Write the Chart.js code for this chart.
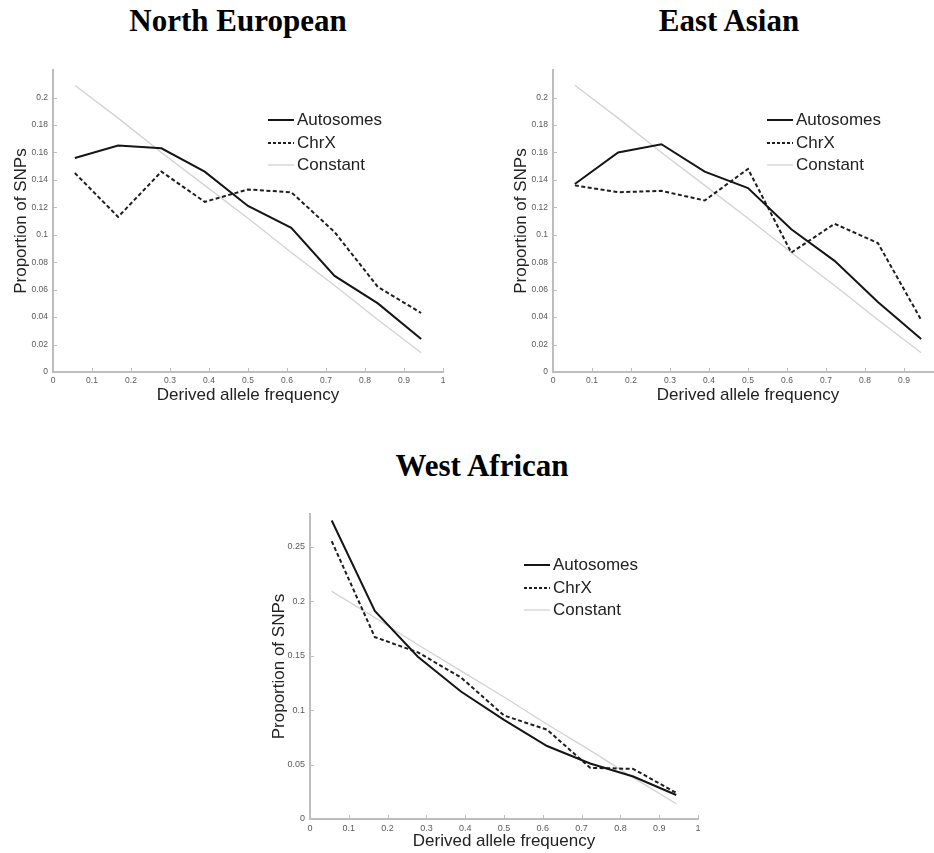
<!DOCTYPE html>
<html lang="en">

<head>
    <meta charset="utf-8">
    <title>Derived allele frequency spectra</title>
    <script src="https://cdn.jsdelivr.net/npm/chart.js@4.4.1/dist/chart.umd.min.js"></script>
    <style>
        html, body { margin: 0; padding: 0; width: 934px; height: 853px; overflow: hidden; background: #ffffff; }
        .title {
            position: absolute; transform: translateX(-50%); white-space: nowrap; line-height: 1;
            font-family: "Liberation Serif", "Times New Roman", serif; font-weight: bold; font-size: 31px; color: #000;
        }
        .panel { position: absolute; }
        .legend { position: absolute; font-family: "Liberation Sans", Arial, sans-serif; font-size: 17px; color: #222; }
        .legend .row { height: 22.5px; display: flex; align-items: center; white-space: nowrap; }
        .legend svg { margin-right: 3px; }
    </style>
</head>

<body>
    <div class="title" style="left: 238px; top: 5px;">North European</div>
    <div class="title" style="left: 729px; top: 5px;">East Asian</div>
    <div class="title" style="left: 482px; top: 450px;">West African</div>

    <canvas class="panel" id="chartNE" width="460" height="360" style="left: 0px; top: 60px;"></canvas>
    <canvas class="panel" id="chartEA" width="460" height="360" style="left: 500px; top: 60px;"></canvas>
    <canvas class="panel" id="chartWA" width="460" height="353" style="left: 250px; top: 500px;"></canvas>

    <div class="legend" id="legendNE" style="left: 268px; top: 109px;"></div>
    <div class="legend" id="legendEA" style="left: 767px; top: 109px;"></div>
    <div class="legend" id="legendWA" style="left: 524px; top: 554px;"></div>

    <script>
        // bin centres (derived allele frequency)
        const freqBins = [0.056, 0.167, 0.278, 0.389, 0.5, 0.611, 0.722, 0.833, 0.944]
        const seriesNames = ['Autosomes', 'ChrX', 'Constant']

        // constant population size expectation
        const constantLine = [0.209, 0.185, 0.160, 0.136, 0.112, 0.087, 0.063, 0.038, 0.014]

        // North European
        const neAutosomes = [0.156, 0.165, 0.163, 0.146, 0.121, 0.105, 0.070, 0.050, 0.024]
        const neChrX = [0.145, 0.113, 0.146, 0.124, 0.133, 0.131, 0.102, 0.062, 0.043]

        // East Asian
        const eaAutosomes = [0.137, 0.160, 0.166, 0.146, 0.134, 0.104, 0.081, 0.051, 0.024]
        const eaChrX = [0.136, 0.131, 0.132, 0.125, 0.148, 0.087, 0.108, 0.094, 0.038]

        // West African
        const waAutosomes = [0.274, 0.191, 0.149, 0.117, 0.091, 0.067, 0.051, 0.039, 0.022]
        const waChrX = [0.255, 0.167, 0.153, 0.130, 0.095, 0.082, 0.047, 0.046, 0.024]

        const axisColor = '#bdbdbd'
        const tickTextColor = '#5a5a5a'

        function toPoints(values) {
            return values.map((v, i) => ({ x: freqBins[i], y: v }))
        }

        function fmt(v) {
            return String(+Number(v).toFixed(2))
        }

        // MATLAB style tick marks pointing into the plot
        const innerTicks = {
            id: 'innerTicks',
            afterDraw(chart) {
                const ctx = chart.ctx
                const xs = chart.scales.x
                const ys = chart.scales.y
                ctx.save()
                ctx.strokeStyle = axisColor
                ctx.lineWidth = 1
                ctx.beginPath()
                xs.ticks.forEach(t => {
                    const px = Math.round(xs.getPixelForValue(t.value)) + 0.5
                    ctx.moveTo(px, ys.bottom)
                    ctx.lineTo(px, ys.bottom - 4)
                })
                ys.ticks.forEach(t => {
                    const py = Math.round(ys.getPixelForValue(t.value)) + 0.5
                    ctx.moveTo(xs.left, py)
                    ctx.lineTo(xs.left + 4, py)
                })
                ctx.stroke()
                ctx.restore()
            }
        }

        function makeChart(id, autosomes, chrx, p) {
            const config = {
                type: 'line',
                data: {
                    datasets: [
                        {
                            label: seriesNames[0], data: toPoints(autosomes),
                            borderColor: '#151515', borderWidth: 2, pointRadius: 0, tension: 0
                        },
                        {
                            label: seriesNames[1], data: toPoints(chrx),
                            borderColor: '#1e1e1e', borderWidth: 2, borderDash: [4, 2.5], pointRadius: 0, tension: 0
                        },
                        {
                            label: seriesNames[2], data: toPoints(constantLine),
                            borderColor: '#d2d2d2', borderWidth: 1.3, pointRadius: 0, tension: 0
                        }
                    ]
                },
                options: {
                    responsive: false,
                    animation: false,
                    devicePixelRatio: 1,
                    layout: { padding: { top: p.padTop, right: p.padRight, left: 0, bottom: 0 } },
                    plugins: { legend: { display: false }, tooltip: { enabled: false } },
                    scales: {
                        x: {
                            type: 'linear', min: 0, max: 1,
                            grid: { display: false, drawTicks: false },
                            border: { color: axisColor, width: 2 },
                            ticks: {
                                stepSize: 0.1, autoSkip: false, maxRotation: 0, padding: 4,
                                color: tickTextColor, font: { family: 'Liberation Sans', size: p.tickSize },
                                callback: v => fmt(v)
                            },
                            title: {
                                display: true, text: 'Derived allele frequency', color: '#222',
                                font: { family: 'Liberation Sans', size: 17 }, padding: { top: 0, bottom: p.xTitlePad }
                            },
                            afterFit: s => { s.height = p.xHeight }
                        },
                        y: {
                            type: 'linear', min: 0, max: p.yMax,
                            grid: { display: false, drawTicks: false },
                            border: { color: axisColor, width: 2 },
                            ticks: {
                                stepSize: p.yStep, padding: 5,
                                color: tickTextColor, font: { family: 'Liberation Sans', size: p.tickSize },
                                callback: v => fmt(v)
                            },
                            afterBuildTicks: s => { s.ticks = s.ticks.filter(t => t.value <= p.yLastTick + 1e-6) },
                            title: {
                                display: true, text: 'Proportion of SNPs', color: '#222',
                                font: { family: 'Liberation Sans', size: 17 }, padding: { top: p.yTitlePad, bottom: 0 }
                            },
                            afterFit: s => { s.width = p.yWidth }
                        }
                    }
                },
                plugins: [innerTicks]
            }
            return new Chart(document.getElementById(id), config)
        }

        function makeLegend(id) {
            const styles = [
                '<line x1="0" y1="4" x2="26" y2="4" stroke="#151515" stroke-width="2"/>',
                '<line x1="0" y1="4" x2="26" y2="4" stroke="#1e1e1e" stroke-width="2" stroke-dasharray="3,2"/>',
                '<line x1="0" y1="4" x2="26" y2="4" stroke="#d2d2d2" stroke-width="1.3"/>'
            ]
            const box = document.getElementById(id)
            seriesNames.forEach((name, i) => {
                const row = document.createElement('div')
                row.className = 'row'
                row.innerHTML = '<svg width="26" height="8">' + styles[i] + '</svg><span>' + name + '</span>'
                box.appendChild(row)
            })
        }

        makeChart('chartNE', neAutosomes, neChrX, {
            padTop: 9, padRight: 17, yWidth: 53, xHeight: 48, yMax: 0.22, yStep: 0.02, yLastTick: 0.2,
            tickSize: 8.5, xTitlePad: 14, yTitlePad: 11
        })
        makeChart('chartEA', eaAutosomes, eaChrX, {
            padTop: 9, padRight: 17, yWidth: 53, xHeight: 48, yMax: 0.22, yStep: 0.02, yLastTick: 0.2,
            tickSize: 8.5, xTitlePad: 14, yTitlePad: 11
        })
        makeChart('chartWA', waAutosomes, waChrX, {
            padTop: 14, padRight: 12, yWidth: 60, xHeight: 34, yMax: 0.28, yStep: 0.05, yLastTick: 0.25,
            tickSize: 9, xTitlePad: 1, yTitlePad: 19
        })

        makeLegend('legendNE')
        makeLegend('legendEA')
        makeLegend('legendWA')
    </script>
</body>

</html>
